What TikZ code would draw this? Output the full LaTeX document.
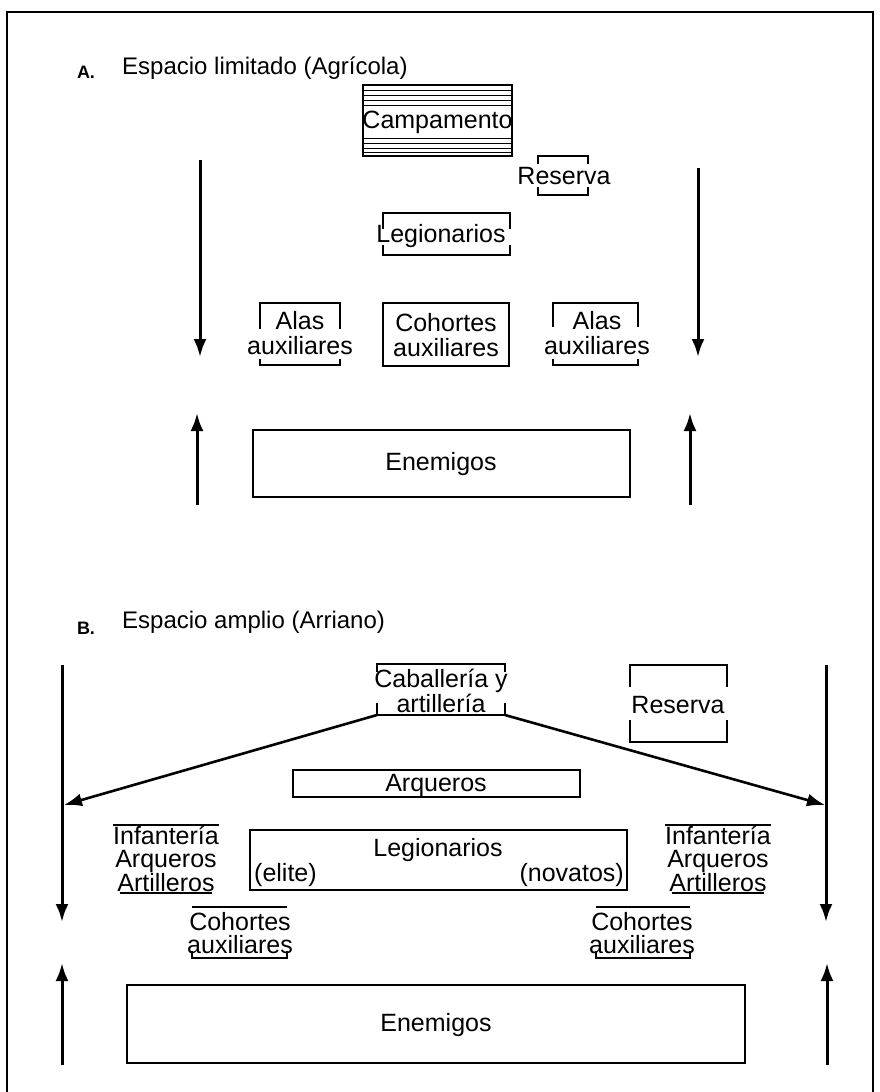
\documentclass[tikz,border=0pt]{standalone}
\usepackage{fontspec}
\setmainfont{Liberation Sans}
\usetikzlibrary{arrows.meta}
\tikzset{
  txt/.style={font=\fontsize{25}{25}\selectfont, inner sep=0pt, align=center},
  head/.style={font=\fontsize{24}{24}\selectfont, inner sep=0pt},
  lettr/.style={font=\fontsize{18}{18}\selectfont\bfseries, inner sep=0pt},
  boxline/.style={line width=2pt},
  brk/.style={line width=2pt},
  hatch/.style={line width=0.8pt},
  arr/.style={line width=3pt, -{Latex[length=18pt,width=13pt]}},
  diag/.style={line width=2.6pt, -{Latex[length=18pt,width=13pt]}},
  frame/.style={line width=2.2pt}
}
% brackets: x1 y1 x2 y2 top-tick bottom-tick
\newcommand{\brkbox}[6]{%
  \draw[brk] (#1,#2+#5) -- (#1,#2) -- (#3,#2) -- (#3,#2+#5);
  \draw[brk] (#1,#4-#6) -- (#1,#4) -- (#3,#4) -- (#3,#4-#6);
}
\begin{document}
\begin{tikzpicture}[x=1pt,y=-1pt]
\useasboundingbox (0,0) rectangle (880,1092);
% frame
\draw[frame] (7,1092) -- (7,12) -- (873,12) -- (873,1092);

% ---------- A ----------
\node[lettr] (lA) at (86,72) {A.};
\node[head, anchor=west] (tA) at (122,68) {Espacio limitado (Agrícola)};

% Campamento
\draw[boxline] (363,85) rectangle (512,156);
\foreach \yy in {90,95,100,105,138,143,148,152}
  \draw[hatch] (363,\yy) -- (512,\yy);
\node[txt] (camp) at (437.5,122) {Campamento};

% Reserva A
\brkbox{538}{156}{588}{195}{8}{8}
\node[txt] (resA) at (564,176) {Reserva};

% Legionarios A
\brkbox{383}{213}{510}{255}{16}{10}
\node[txt] (legA) at (441,236) {Legionarios};

% Alas auxiliares (left)
\brkbox{260}{303}{340}{365}{26}{6}
\node[txt] (alasL) at (300,333) {Alas\\auxiliares};

% Cohortes auxiliares
\draw[boxline] (383,303) rectangle (509,366);
\node[txt] (cohA) at (446,335) {Cohortes\\auxiliares};

% Alas auxiliares (right)
\brkbox{553}{303}{638}{365}{24}{6}
\node[txt] (alasR) at (597,333) {Alas\\auxiliares};

% Enemigos A
\draw[boxline] (253,430) rectangle (630,497);
\node[txt] (enA) at (441,464) {Enemigos};

% arrows A
\coordinate (aL1) at (200,160); \coordinate (aL2) at (200,357);
\coordinate (aR1) at (698,168); \coordinate (aR2) at (698,357);
\coordinate (uL1) at (197,505); \coordinate (uL2) at (197,413);
\coordinate (uR1) at (690,505); \coordinate (uR2) at (690,413);
\draw[arr] (aL1) -- (aL2);
\draw[arr] (aR1) -- (aR2);
\draw[arr] (uL1) -- (uL2);
\draw[arr] (uR1) -- (uR2);

% ---------- B ----------
\node[lettr] (lB) at (86,628) {B.};
\node[head, anchor=west] (tB) at (122,622) {Espacio amplio (Arriano)};

% Caballeria y artilleria
\brkbox{377}{664}{505}{715}{8}{12}
\node[txt] (cab) at (441,691) {Caballería y\\artillería};
\coordinate (cabSW) at (377,715);
\coordinate (cabSE) at (505,715);

% Reserva B
\brkbox{630}{665}{727}{742}{22}{22}
\node[txt] (resB) at (678,705) {Reserva};

% Arqueros
\draw[boxline] (293,770) rectangle (580,797);
\node[txt] (arq) at (436,785) {Arqueros};

% Legionarios B
\draw[boxline] (250,830) rectangle (627,890);
\node[txt] (legB) at (438,850) {Legionarios};
\node[txt, anchor=west] (eli) at (254,875) {(elite)};
\node[txt, anchor=east] (nov) at (624,875) {(novatos)};

% Infanteria stacks
\node[txt, font=\fontsize{25}{23}\selectfont] (infL) at (166,859) {Infantería\\Arqueros\\Artilleros};
\draw[brk] ([yshift=1pt]infL.north west) -- ([yshift=1pt]infL.north east);
\draw[brk] ([xshift=7pt,yshift=-1pt]infL.south west) -- ([xshift=-7pt,yshift=-1pt]infL.south east);
\node[txt, font=\fontsize{25}{23}\selectfont] (infR) at (718,859) {Infantería\\Arqueros\\Artilleros};
\draw[brk] ([yshift=1pt]infR.north west) -- ([yshift=1pt]infR.north east);
\draw[brk] ([xshift=7pt,yshift=-1pt]infR.south west) -- ([xshift=-7pt,yshift=-1pt]infR.south east);

% Cohortes auxiliares B
\node[txt, font=\fontsize{25}{23}\selectfont] (cohL) at (240,933) {Cohortes\\auxiliares};
\draw[brk] (192,907) -- (287,907);
\draw[brk] (192,951) -- (192,958) -- (287,958) -- (287,951);
\node[txt, font=\fontsize{25}{23}\selectfont] (cohR) at (642,933) {Cohortes\\auxiliares};
\draw[brk] (596,907) -- (690,907);
\draw[brk] (596,951) -- (596,958) -- (690,958) -- (690,951);

% Enemigos B
\draw[boxline] (127,985) rectangle (745,1063);
\node[txt] (enB) at (436,1025) {Enemigos};

% arrows B
\coordinate (bL1) at (62,665); \coordinate (bL2) at (62,922);
\coordinate (bR1) at (826,665); \coordinate (bR2) at (826,922);
\coordinate (vL1) at (62,1065); \coordinate (vL2) at (62,963);
\coordinate (vR1) at (827,1065); \coordinate (vR2) at (827,963);
\draw[arr] (bL1) -- (bL2);
\draw[arr] (bR1) -- (bR2);
\draw[arr] (vL1) -- (vL2);
\draw[arr] (vR1) -- (vR2);

% diagonal connectors
\coordinate (dL) at (64,805);
\coordinate (dR) at (825,805);
\draw[diag] (cabSW) -- (dL);
\draw[diag] (cabSE) -- (dR);
\end{tikzpicture}
\end{document}
